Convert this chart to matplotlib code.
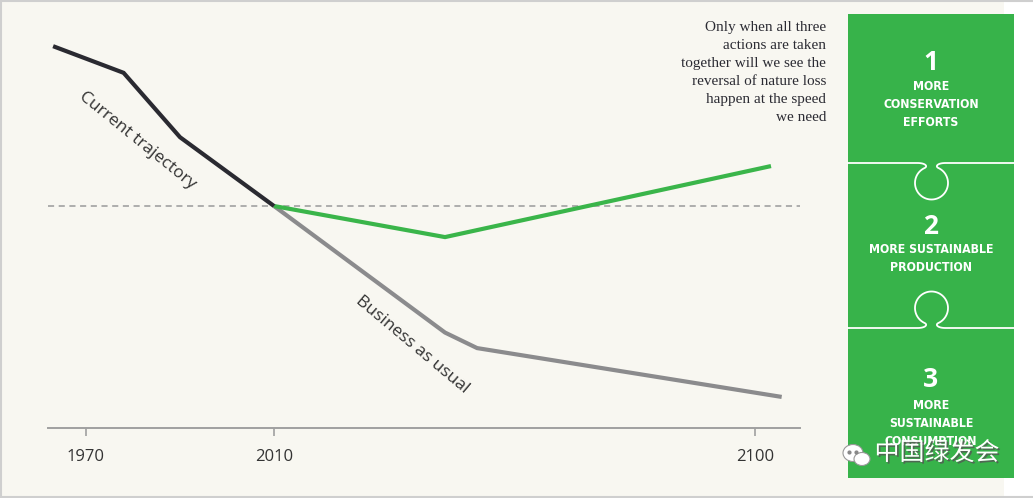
import numpy as np
import matplotlib.pyplot as plt
from matplotlib.patches import Rectangle, Ellipse
import matplotlib.patheffects as pe

# --- data (schematic index) ---
cur_years = [1963, 1978, 1990, 2010]
cur_vals = [172, 160, 131, 100]
green_years = [2010, 2042, 2103]
green_vals = [100, 86, 118]
bau_years = [2010, 2042, 2048, 2105]
bau_vals = [100, 43, 36, 14]
tick_years = [1970, 2010, 2100]
baseline = 100

note_lines = ["Only when all three", "actions are taken", "together will we see the",
              "reversal of nature loss", "happen at the speed", "we need"]
steps = [("1", ["MORE", "CONSERVATION", "EFFORTS"]),
         ("2", ["MORE SUSTAINABLE", "PRODUCTION"]),
         ("3", ["MORE", "SUSTAINABLE", "CONSUMPTION"])]

CREAM = "#f8f7f1"
GREEN = "#37b34a"

# the time axis is not linear: 1970-2010 is squeezed compared to 2010-2100
_yr = [1900, 2010, 2200]
_px = [274 - 110 * 4.7, 274, 274 + 190 * 5.344]
def fwd(x):
    return np.interp(x, _yr, _px)
def inv(x):
    return np.interp(x, _px, _yr)

fig = plt.figure(figsize=(10.33, 4.98), dpi=100, facecolor="white")

# background / decoration layer in pixel coords
bg = fig.add_axes([0, 0, 1, 1], zorder=0)
bg.set_xlim(0, 1033)
bg.set_ylim(498, 0)
bg.axis("off")
bg.add_patch(Rectangle((0, 0), 1004, 497, facecolor=CREAM, edgecolor="none"))
bg.plot([0, 1033], [0.5, 0.5], color="#cfcfcf", lw=1.5)
bg.plot([0, 1033], [496.5, 496.5], color="#cfcfcf", lw=1.5)
bg.plot([0.5, 0.5], [0, 497], color="#cfcfcf", lw=1.5)

# main chart
ax = fig.add_axes([48 / 1033, 1 - 428 / 498, 752 / 1033, 414 / 498], zorder=1)
ax.patch.set_alpha(0)
ax.set_xscale("function", functions=(fwd, inv))
ax.set_xlim(inv(48), inv(800))
ax.set_ylim(0, 186.5)
for s in ["top", "right", "left"]:
    ax.spines[s].set_visible(False)
ax.spines["bottom"].set_color("#a0a0a0")
ax.spines["bottom"].set_linewidth(1.4)
ax.set_yticks([])
ax.set_xticks(tick_years)
ax.set_xticklabels([str(t) for t in tick_years])
ax.xaxis.set_minor_locator(plt.NullLocator())
ax.tick_params(axis="x", direction="out", length=6, width=1.2, color="#a0a0a0",
               pad=9, labelsize=12, labelcolor="#333333")
for lab in ax.get_xticklabels():
    lab.set_family(["Open Sans", "DejaVu Sans"])

ax.axhline(baseline, color="#9a9a9a", lw=1.1, ls=(0, (4, 3)), zorder=1)
ax.plot(bau_years, bau_vals, color="#8b8b8d", lw=3, solid_capstyle="butt",
        solid_joinstyle="miter", zorder=2)
ax.plot(green_years, green_vals, color="#3ab54a", lw=3, solid_capstyle="butt",
        solid_joinstyle="miter", zorder=3)
ax.plot(cur_years, cur_vals, color="#2a2a31", lw=3, solid_capstyle="butt",
        solid_joinstyle="miter", zorder=4)

ax.text(1981.0, 129.5, "Current trajectory", rotation=-39, rotation_mode="anchor",
        ha="center", va="center", fontsize=12.5, color="#333333",
        family=["Open Sans", "DejaVu Sans"])
ax.text(2035.8, 37.5, "Business as usual", rotation=-40, rotation_mode="anchor",
        ha="center", va="center", fontsize=12.5, color="#333333",
        family=["Open Sans", "DejaVu Sans"])

# overlay: note + puzzle panel
ov = fig.add_axes([0, 0, 1, 1], zorder=2)
ov.patch.set_alpha(0)
ov.set_xlim(0, 1033)
ov.set_ylim(498, 0)
ov.axis("off")

for i, line in enumerate(note_lines):
    ov.text(826, 27 + 18 * i, line, ha="right", va="center", fontsize=11,
            color="#2b2b33", family=["Liberation Serif", "DejaVu Serif"])

ov.add_patch(Rectangle((848, 14), 166, 464, facecolor=GREEN, edgecolor="none"))


def bez(p0, p1, p2, p3, n=20):
    t = np.linspace(0, 1, n)[:, None]
    p0, p1, p2, p3 = map(np.asarray, (p0, p1, p2, p3))
    return (1 - t) ** 3 * p0 + 3 * (1 - t) ** 2 * t * p1 + 3 * (1 - t) * t ** 2 * p2 + t ** 3 * p3


def knob(y0, sgn, cx=931.5, off=20, r=16.5):
    a0, a1 = np.radians(245), np.radians(-65)
    s0 = np.array([cx + r * np.cos(a0), off + r * np.sin(a0)])
    s1 = np.array([cx + r * np.cos(a1), off + r * np.sin(a1)])
    d0 = np.array([np.sin(a0), -np.cos(a0)])
    d1 = np.array([np.sin(a1), -np.cos(a1)])
    left = bez([cx - 14, 0], [cx - 6, 0], s0 - 4 * d0, s0)
    th = np.linspace(a0, a1, 80)
    arc = np.column_stack([cx + r * np.cos(th), off + r * np.sin(th)])
    right = bez(s1, s1 + 4 * d1, [cx + 6, 0], [cx + 14, 0])
    pts = np.vstack([[[848, 0]], left, arc, right, [[1014, 0]]])
    ov.plot(pts[:, 0], y0 + sgn * pts[:, 1], color="white", lw=1.3)


knob(163, 1)
knob(328, -1)

num_y = [62, 226, 379]
cap_y = [86, 249, 405]
for (num, caps), ny, cy in zip(steps, num_y, cap_y):
    ov.text(931, ny, num, ha="center", va="center", fontsize=19, fontweight="bold",
            color="white", family=["Open Sans", "DejaVu Sans"])
    for j, c in enumerate(caps):
        ov.text(931, cy + 18 * j, c, ha="center", va="center", fontsize=8.8,
                fontweight="bold", fontstretch="condensed", color="white",
                family=["DejaVu Sans"])

# watermark
ov.add_patch(Ellipse((853, 453), 20, 17, facecolor="white", edgecolor="#999999", lw=0.8))
ov.add_patch(Ellipse((862, 459), 16, 13, facecolor="white", edgecolor="#999999", lw=0.8))
for x, y in [(849, 452), (856, 452)]:
    ov.plot(x, y, "o", ms=2, color="#888888")
ov.text(937, 453, "中国绿发会", ha="center", va="center", fontsize=18, color="white",
        family=["Noto Sans CJK SC", "DejaVu Sans"],
        path_effects=[pe.withSimplePatchShadow(offset=(1.2, -1.2), shadow_rgbFace="#555555", alpha=0.8)])

fig.savefig("out.png", dpi=100, facecolor=fig.get_facecolor())
